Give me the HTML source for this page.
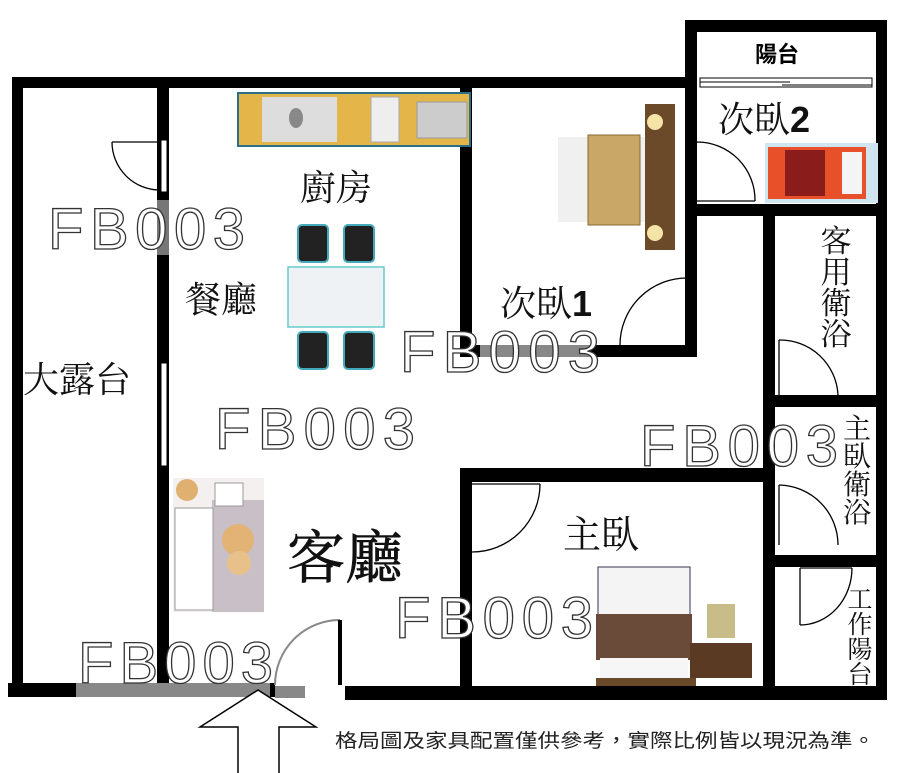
<!DOCTYPE html>
<html><head><meta charset="utf-8"><style>
html,body{margin:0;padding:0;background:#fff;}
svg{display:block}
.lbl{font-family:"Liberation Serif","Noto Serif CJK SC","Noto Sans CJK TC",serif;fill:#111;}
.fb{font-family:"Liberation Sans",sans-serif;fill:#fff;stroke:#333;stroke-width:1.3;font-size:58px;}
</style></head><body>
<svg width="900" height="773" viewBox="0 0 900 773" xmlns="http://www.w3.org/2000/svg">
<rect width="900" height="773" fill="#fff"/>
<g fill="#000">
<rect x="12" y="77" width="685" height="11"/>
<rect x="12" y="77" width="11" height="610"/>
<rect x="685" y="20" width="202" height="12"/>
<rect x="685" y="20" width="12" height="337"/>
<rect x="876" y="20" width="11" height="680"/>
<rect x="157" y="88" width="12" height="600"/>
<rect x="460" y="88" width="12" height="269"/>
<rect x="460" y="345" width="237" height="12"/>
<rect x="697" y="204" width="180" height="12"/>
<rect x="763" y="204" width="12" height="496"/>
<rect x="775" y="395" width="101" height="12"/>
<rect x="775" y="555" width="101" height="12"/>
<rect x="460" y="468" width="303" height="14"/>
<rect x="460" y="468" width="12" height="232"/>
<rect x="8" y="683" width="267" height="14"/>
<rect x="345" y="686" width="542" height="14"/>
</g>
<rect x="76" y="683" width="194" height="14" fill="#888"/>
<rect x="275" y="686" width="30" height="12" fill="#888"/>
<rect x="157" y="200" width="12" height="55" fill="#777"/>
<rect x="480" y="345" width="110" height="12" fill="#888"/>
<g fill="#fff" stroke="#000" stroke-width="1">
<rect x="161" y="140" width="6" height="52"/>
<rect x="161" y="363" width="6" height="103"/>
<rect x="700" y="78" width="172" height="9"/>
</g>
<line x1="700" y1="82" x2="790" y2="82" stroke="#000"/>
<line x1="782" y1="85" x2="872" y2="85" stroke="#000"/>
<g fill="none" stroke="#000" stroke-width="1.3">
<path d="M112 142 H160"/><path d="M112 142 A48 48 0 0 0 160 190"/>
<path d="M688 278 V345"/><path d="M688 278 A67 67 0 0 0 620 345"/>
<path d="M697 201 H755"/><path d="M697 142 A58 58 0 0 1 755 201"/>
<path d="M472 484 H540"/><path d="M540 484 A68 68 0 0 1 472 552"/>
<path d="M779 340 V395"/><path d="M779 340 A58 58 0 0 1 838 395"/>
<path d="M779 485 V545"/><path d="M779 485 A60 60 0 0 1 838 545"/>
<path d="M800 568 V625 M800 568 H852"/><path d="M800 625 A52 57 0 0 0 852 568"/>
<path d="M275 685 A65 65 0 0 1 340 620" stroke="#888" stroke-width="2"/>
</g>
<rect x="338" y="620" width="4" height="65" fill="#000"/>
<path d="M238 773 V727 H200 L258 690 L316 727 H279 V773" fill="#fff" stroke="#000" stroke-width="1.5"/>
<rect x="238" y="93" width="232" height="53" fill="#e4b64a" stroke="#2a6f8a" stroke-width="2"/>
<rect x="262" y="97" width="75" height="45" fill="#ddd"/>
<ellipse cx="296" cy="118" rx="7" ry="10" fill="#888"/>
<rect x="371" y="97" width="28" height="45" fill="#eee" stroke="#aaa"/>
<rect x="417" y="102" width="50" height="36" fill="#ccc" stroke="#999"/>
<rect x="288" y="267" width="96" height="60" fill="#eef2f4" stroke="#6cc" stroke-width="1.5"/>
<g fill="#222" stroke="#4ab" stroke-width="2">
<rect x="298" y="225" width="30" height="37" rx="4"/><rect x="344" y="225" width="30" height="37" rx="4"/>
<rect x="298" y="332" width="30" height="37" rx="4"/><rect x="344" y="332" width="30" height="37" rx="4"/>
</g>
<rect x="173" y="478" width="91" height="134" fill="#f4f0f0"/>
<rect x="212" y="500" width="52" height="112" fill="#c9bfc6"/>
<rect x="175" y="508" width="38" height="102" fill="#fff" stroke="#999"/>
<circle cx="187" cy="490" r="11" fill="#e0b070"/>
<rect x="215" y="483" width="28" height="23" fill="#fff" stroke="#999"/>
<circle cx="238" cy="540" r="16" fill="#e2b374"/>
<circle cx="239" cy="563" r="12" fill="#e8c08a"/>
<rect x="558" y="137" width="90" height="85" fill="#f0f0f0"/>
<rect x="588" y="135" width="52" height="90" fill="#c9a766" stroke="#8a6a30"/>
<rect x="645" y="104" width="30" height="146" fill="#6b4a2a"/>
<circle cx="655" cy="122" r="8" fill="#f4e4a8"/><circle cx="655" cy="233" r="8" fill="#f4e4a8"/>
<rect x="765" y="143" width="113" height="60" fill="#cfe6f0"/>
<rect x="768" y="147" width="98" height="52" fill="#e8502a"/>
<rect x="785" y="150" width="40" height="46" fill="#8a1c1c"/>
<rect x="842" y="152" width="20" height="42" fill="#f4f4f4"/>
<rect x="598" y="567" width="92" height="50" fill="#f4f4f4" stroke="#335" stroke-width="1"/>
<rect x="596" y="614" width="96" height="46" fill="#6a4a38"/>
<rect x="600" y="658" width="88" height="22" fill="#f6f6f6"/>
<rect x="596" y="678" width="100" height="8" fill="#6b4a2a"/>
<rect x="690" y="643" width="62" height="35" fill="#5b3a24"/>
<rect x="707" y="604" width="28" height="34" fill="#c8bd88"/>
<text class="fb" x="48" y="249" textLength="197" lengthAdjust="spacing">FB003</text>
<text class="fb" x="400" y="372" textLength="200" lengthAdjust="spacing">FB003</text>
<text class="fb" x="215" y="449" textLength="200" lengthAdjust="spacing">FB003</text>
<text class="fb" x="640" y="466" textLength="198" lengthAdjust="spacing">FB003</text>
<text class="fb" x="395" y="638" textLength="198" lengthAdjust="spacing">FB003</text>
<text class="fb" x="78" y="683" textLength="195" lengthAdjust="spacing">FB003</text>
<text class="lbl" x="300" y="200" font-size="36">廚房</text>
<text class="lbl" x="185" y="312" font-size="36">餐廳</text>
<text class="lbl" x="23" y="392" font-size="36">大露台</text>
<text class="lbl" x="287" y="578" font-size="58" stroke="#111" stroke-width="0.6">客廳</text>
<text class="lbl" x="500" y="316" font-size="36">次臥<tspan font-family="Liberation Sans" font-weight="bold">1</tspan></text>
<text class="lbl" x="718" y="132" font-size="36">次臥<tspan font-family="Liberation Sans" font-weight="bold">2</tspan></text>
<text x="755" y="62" font-size="22" font-weight="bold" font-family="'Liberation Sans','Noto Sans CJK TC',sans-serif">陽台</text>
<text class="lbl" x="563" y="548" font-size="38">主臥</text>
<g class="lbl" font-size="31" text-anchor="middle">
<text x="836" y="252">客</text><text x="836" y="283">用</text><text x="836" y="314">衛</text><text x="836" y="345">浴</text>
</g>
<g class="lbl" font-size="28" text-anchor="middle">
<text x="857" y="438">主</text><text x="857" y="466">臥</text><text x="857" y="494">衛</text><text x="857" y="522">浴</text>
</g>
<g class="lbl" font-size="25" text-anchor="middle">
<text x="860" y="608">工</text><text x="860" y="633">作</text><text x="860" y="658">陽</text><text x="860" y="683">台</text>
</g>
<text x="335" y="747" font-size="19" fill="#222" textLength="540" lengthAdjust="spacingAndGlyphs" font-family="'Liberation Sans','Noto Sans CJK TC',sans-serif">格局圖及家具配置僅供參考，實際比例皆以現況為準。</text>
</svg>
</body></html>
